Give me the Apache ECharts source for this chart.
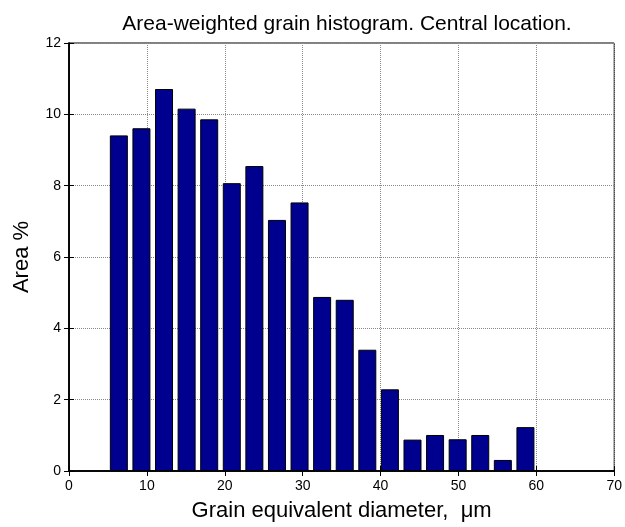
<!DOCTYPE html>
<html>
<head>
<meta charset="utf-8">
<script src="https://cdn.jsdelivr.net/npm/echarts@6/dist/echarts.min.js"></script>
<style>html,body{margin:0;padding:0;background:#fff}#c{width:625px;height:527px}</style>
</head>
<body>
<div id="c"></div>
<script>
const binCenters = [6.4, 9.3, 12.2, 15.1, 18.0, 20.9, 23.8, 26.7, 29.6, 32.5, 35.4, 38.3, 41.2, 44.1, 47.0, 49.9, 52.8, 55.7, 58.6];
const areaPct = [9.41, 9.61, 10.71, 10.16, 9.86, 8.07, 8.55, 7.04, 7.53, 4.88, 4.80, 3.40, 2.29, 0.88, 1.01, 0.89, 1.01, 0.31, 1.23];
const xTicks = [0, 10, 20, 30, 40, 50, 60, 70];
const yTicks = [0, 2, 4, 6, 8, 10, 12];
const titleText = 'Area-weighted grain histogram. Central location.';
const xLabel = 'Grain equivalent diameter,  μm';
const yLabel = 'Area %';

const font = '"Liberation Sans", Arial, sans-serif';
const chart = echarts.init(document.getElementById('c'), null, {renderer: 'canvas'});
const gridStyle = {show: true, lineStyle: {color: '#8a8a8a', type: 'dotted', width: 1}};
chart.setOption({
  animation: false,
  backgroundColor: '#fff',
  title: {text: titleText, left: 342, top: 9, textAlign: 'center',
    textStyle: {fontFamily: font, fontSize: 21, fontWeight: 'normal', color: '#000'}},
  grid: {left: 69, right: 10, top: 43, bottom: 54, show: true, borderColor: '#000', borderWidth: 1},
  xAxis: [{
    type: 'value', min: xTicks[0], max: xTicks[xTicks.length - 1], interval: 10,
    name: xLabel, nameLocation: 'middle', nameGap: 29,
    nameTextStyle: {fontFamily: font, fontSize: 22, color: '#000'},
    axisLine: {show: true, onZero: false, lineStyle: {color: '#000', width: 1.5}},
    axisTick: {show: true, inside: true, length: 5, lineStyle: {color: '#000'}},
    axisLabel: {fontFamily: font, fontSize: 14, color: '#000', margin: 8},
    splitLine: gridStyle
  }, {
    type: 'value', position: 'top', min: 0, max: 70, interval: 10,
    axisLine: {show: true, lineStyle: {color: '#000', width: 1.5}},
    axisTick: {show: true, inside: true, length: 5, lineStyle: {color: '#000'}},
    axisLabel: {show: false}, splitLine: {show: false}
  }],
  yAxis: [{
    type: 'value', min: yTicks[0], max: yTicks[yTicks.length - 1], interval: 2,
    name: yLabel, nameLocation: 'middle', nameGap: 36, nameRotate: 90,
    nameTextStyle: {fontFamily: font, fontSize: 22, color: '#000'},
    axisLine: {show: true, onZero: false, lineStyle: {color: '#000', width: 1.5}},
    axisTick: {show: true, inside: true, length: 5, lineStyle: {color: '#000'}},
    axisLabel: {fontFamily: font, fontSize: 14, color: '#000', margin: 8},
    splitLine: gridStyle
  }, {
    type: 'value', position: 'right', min: 0, max: 12, interval: 2,
    axisLine: {show: true, lineStyle: {color: '#000', width: 1.5}},
    axisTick: {show: true, inside: true, length: 5, lineStyle: {color: '#000'}},
    axisLabel: {show: false}, splitLine: {show: false}
  }],
  series: [{
    type: 'bar',
    xAxisIndex: 0, yAxisIndex: 0,
    data: binCenters.map((x, i) => [x, areaPct[i]]),
    barWidth: 18,
    itemStyle: {color: '#00008F', borderColor: '#000', borderWidth: 1},
    z: 3
  }]
});
</script>
</body>
</html>
